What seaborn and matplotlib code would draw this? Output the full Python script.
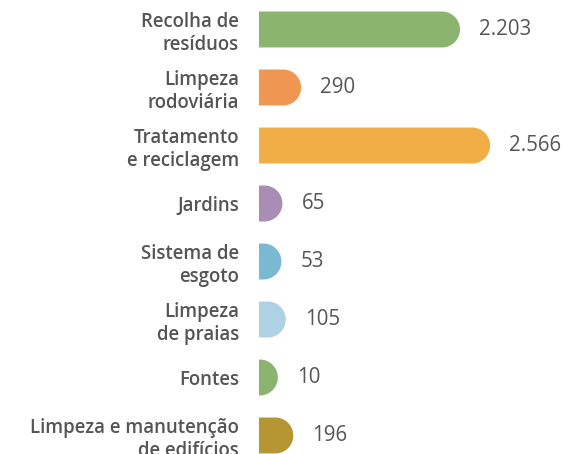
import matplotlib
matplotlib.use("Agg")
import numpy as np
import matplotlib.pyplot as plt
from matplotlib.patches import PathPatch
from matplotlib.path import Path
from matplotlib.transforms import offset_copy
import seaborn as sns
import pandas as pd

# data
categorias = ["Recolha de\nresíduos", "Limpeza\nrodoviária", "Tratamento\ne reciclagem",
              "Jardins", "Sistema de\nesgoto", "Limpeza\nde praias", "Fontes",
              "Limpeza e manutenção\nde edifícios"]
valores = [2203, 290, 2566, 65, 53, 105, 10, 196]
cores = ["#8bb56f", "#ef9752", "#f2ae46", "#a98db5", "#7bb8d2", "#aed2e3", "#8bb56f", "#b59632"]

df = pd.DataFrame({"cat": categorias, "val": valores})

sns.set_style("white")
plt.rcParams["font.family"] = ["Open Sans", "DejaVu Sans"]

W, H = 563, 454
fig = plt.figure(figsize=(W / 100, H / 100), dpi=100)
left_px = 259
ax = fig.add_axes([left_px / W, 0, (W - left_px) / W, 1])

bar_h = 0.62
sns.barplot(data=df, x="val", y="cat", hue="cat", palette=cores, legend=False,
            orient="h", width=bar_h, ax=ax, linewidth=0, saturation=1)

ax.set_xlim(0, 3660)
ax.set_ylim((H - 29.5) / 58, -29.5 / 58)

# rounded right ends: redraw each bar as one shape with a half-round cap past the value
r_px = 18
px_per_unit = (ax.transData.transform((1000, 0))[0] - ax.transData.transform((0, 0))[0]) / 1000
r_data = r_px / px_per_unit
t = np.linspace(-np.pi / 2, np.pi / 2, 60)
for i, (v, c) in enumerate(zip(valores, cores)):
    xs = v + r_data * np.cos(t)
    ys = i + bar_h / 2 * np.sin(t)
    verts = [(0, i - bar_h / 2)] + list(zip(xs, ys)) + [(0, i + bar_h / 2), (0, i - bar_h / 2)]
    ax.add_patch(PathPatch(Path(verts, closed=True), facecolor=c,
                           edgecolor="none", linewidth=0, zorder=3))

# value labels
trans = offset_copy(ax.transData, fig=fig, x=r_px + 19, y=0, units="dots")
for i, v in enumerate(valores):
    ax.text(v, i, f"{v:,}".replace(",", "."), transform=trans, ha="left", va="center",
            fontsize=14.8, color="#555555")

ax.set_xlabel("")
ax.set_ylabel("")
ax.set_xticks([])
ax.tick_params(axis="y", length=0, pad=14.4)
for lab in ax.get_yticklabels():
    lab.set_fontweight("semibold")
    lab.set_fontsize(13.4)
    lab.set_color("#555555")
    lab.set_linespacing(1.2)
sns.despine(ax=ax, left=True, bottom=True)

fig.savefig("out.png", dpi=100)
